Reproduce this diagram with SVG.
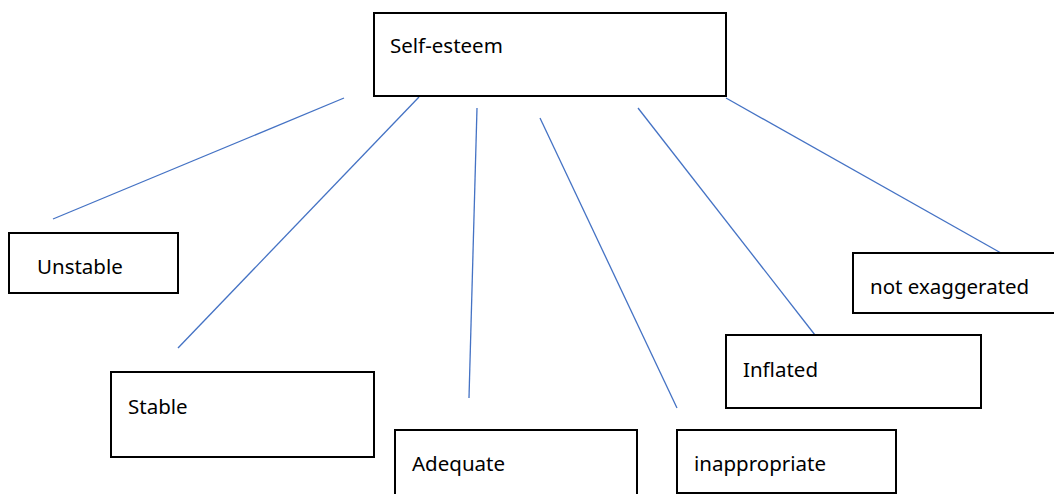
<svg xmlns="http://www.w3.org/2000/svg" width="1054" height="494" viewBox="0 0 1054 494">
<style>
.box{fill:#fff;stroke:#000;stroke-width:2}
.lbl{font-family:"Noto Sans","Liberation Sans",sans-serif;font-size:20.5px;fill:#000}
.con{stroke:#4472c4;stroke-width:1.3;fill:none}
</style>
<rect width="1054" height="494" fill="#fff"/>
<g id="connectors">
<line class="con" x1="344" y1="98" x2="53" y2="219"/>
<line class="con" x1="419" y1="97" x2="178" y2="348"/>
<line class="con" x1="477" y1="108" x2="469" y2="398"/>
<line class="con" x1="540" y1="118" x2="677" y2="408"/>
<line class="con" x1="638" y1="108" x2="815" y2="335"/>
<line class="con" x1="726" y1="98" x2="1001" y2="253"/>
</g>
<g id="self-esteem"><rect class="box" x="374" y="13" width="352" height="83"/><text class="lbl" x="390" y="53">Self-esteem</text></g>
<g id="unstable"><rect class="box" x="9" y="233" width="169" height="60"/><text class="lbl" x="37" y="274">Unstable</text></g>
<g id="stable"><rect class="box" x="111" y="372" width="263" height="85"/><text class="lbl" x="128" y="414">Stable</text></g>
<g id="adequate"><rect class="box" x="395" y="430" width="242" height="70"/><text class="lbl" x="412" y="471">Adequate</text></g>
<g id="inappropriate"><rect class="box" x="677" y="430" width="219" height="63"/><text class="lbl" x="694" y="471">inappropriate</text></g>
<g id="inflated"><rect class="box" x="726" y="335" width="255" height="73"/><text class="lbl" x="743" y="377">Inflated</text></g>
<g id="not-exaggerated"><rect class="box" x="853" y="253" width="210" height="60"/><text class="lbl" x="870" y="294">not exaggerated</text></g>
</svg>
